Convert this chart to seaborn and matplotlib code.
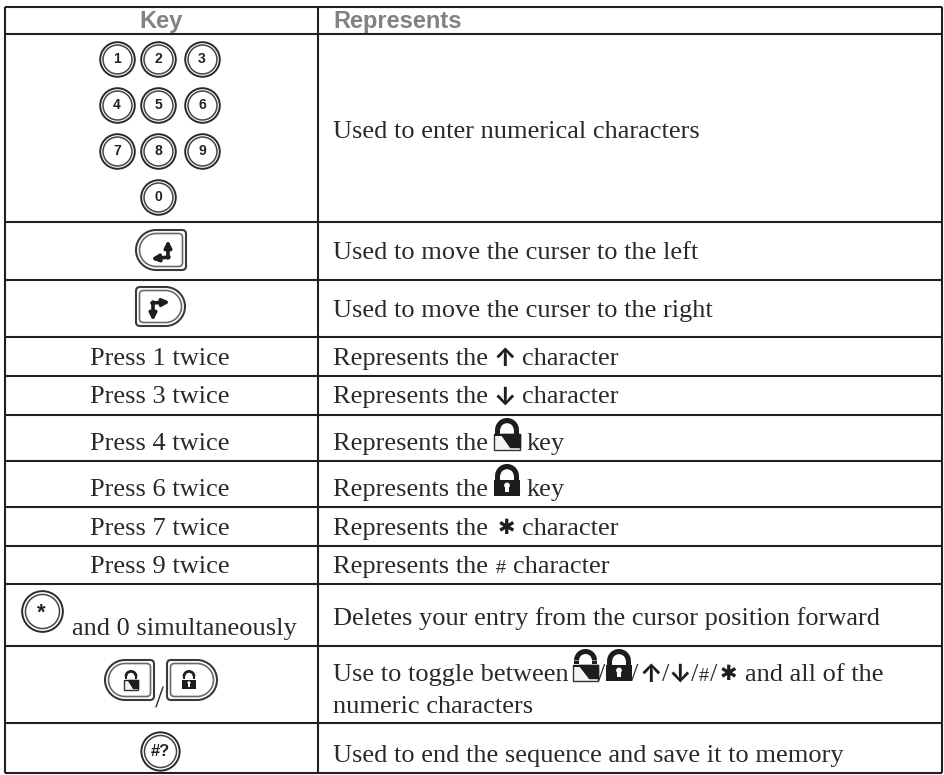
import matplotlib
matplotlib.use('Agg')
import matplotlib.pyplot as plt
import seaborn as sns
import pandas as pd
from matplotlib.path import Path
from matplotlib.patches import PathPatch, Rectangle, Wedge, Circle

headers = ['Key', 'Represents']
key_digits = ['1', '2', '3', '4', '5', '6', '7', '8', '9', '0']
press_labels = ['Press 1 twice', 'Press 3 twice', 'Press 4 twice', 'Press 6 twice', 'Press 7 twice', 'Press 9 twice']
used_enter = 'Used to enter numerical characters'
used_left = 'Used to move the curser to the left'
used_right = 'Used to move the curser to the right'
deletes = 'Deletes your entry from the cursor position forward'
toggle_a = 'Use to toggle between'
toggle_b = 'and all of the'
toggle_c = 'numeric characters'
used_end = 'Used to end the sequence and save it to memory'

INK = '#2b2829'
DARK = '#1e1c1d'
SERIF = 'Liberation Serif'
FS = 19

sns.set_theme(style='white')
fig = plt.figure(figsize=(9.45, 7.75), dpi=100)
ax = fig.add_axes([0, 0, 1, 1])
ax.set_xlim(0, 945)
ax.set_ylim(775, 0)
ax.axis('off')

# table rules
row_y = [7, 34, 222, 280, 337, 376, 415, 461, 507, 546, 584, 646, 723, 773]
ax.hlines(row_y, 5, 942, color='#231f20', lw=1.5)
ax.vlines([5, 318, 942], 7, 773, color='#231f20', lw=1.5)

def txt(x, y, s, ha='left', **kw):
    kw.setdefault('family', SERIF)
    kw.setdefault('fontsize', FS)
    kw.setdefault('color', INK)
    ax.text(x, y, s, ha=ha, va='baseline', **kw)

def arrow_char(x, y, s):
    ax.text(x, y, s, ha='center', va='center', family=['Inter', 'DejaVu Sans'], fontweight='bold', fontsize=18, color=DARK)

def star_char(x, y):
    ax.text(x, y, '✱', ha='center', va='center', family='DejaVu Sans', fontsize=15, color=DARK)

def ring_button(df, size):
    sns.scatterplot(data=df, x='x', y='y', s=size, color='white', edgecolor='#2a2a2a', linewidth=1.4, ax=ax, legend=False, zorder=3)
    sns.scatterplot(data=df, x='x', y='y', s=size * 0.7, color='white', edgecolor='#444444', linewidth=1.1, ax=ax, legend=False, zorder=4)

def d_button(x0, x1, y0, y1, flip=False):
    # D shaped key, round side left unless flipped
    for inset, col, lw in [(0, '#3a3a3a', 1.5), (3.5, '#6a6a6a', 1.2)]:
        a, b, t, u = x0 + inset, x1 - inset, y0 + inset, y1 - inset
        r = (u - t) / 2
        k = 0.55 * r
        q = 4
        v = [(b - q, t), (a + r, t), (a + r - k, t), (a, t + r - k), (a, t + r),
             (a, t + r + k), (a + r - k, u), (a + r, u), (b - q, u), (b, u), (b, u - q),
             (b, t + q), (b, t), (b - q, t), (b - q, t)]
        if flip:
            v = [(x0 + x1 - p, w) for p, w in v]
        c = [Path.MOVETO, Path.LINETO, Path.CURVE4, Path.CURVE4, Path.CURVE4,
             Path.CURVE4, Path.CURVE4, Path.CURVE4, Path.LINETO, Path.CURVE3, Path.CURVE3,
             Path.LINETO, Path.CURVE3, Path.CURVE3, Path.CLOSEPOLY]
        ax.add_patch(PathPatch(Path(v, c), fc='white', ec=col, lw=lw, zorder=3))

def lock(x, y, w, h, is_open=False):
    # x, y = left and top of the icon
    mid = x + w / 2
    r = w * 0.46
    ax.add_patch(Wedge((mid, y + r), r, 180, 360, width=w * 0.2, fc=DARK, ec='none', zorder=5))
    ax.add_patch(Rectangle((mid - r, y + r), w * 0.2, h * 0.12, fc=DARK, ec='none', zorder=5))
    ax.add_patch(Rectangle((mid + r - w * 0.2, y + r), w * 0.2, h * 0.12, fc=DARK, ec='none', zorder=5))
    body = y + h * 0.5
    if is_open:
        ax.add_patch(Rectangle((x, body), w, y + h - body, fc='#f4f4f4', ec='#333333', lw=1.0, zorder=5))
        ax.fill([x + w * 0.25, x + w, x + w, x + w * 0.62], [body, body, y + h * 0.92, y + h * 0.92], color=DARK, zorder=6)
        ax.add_patch(Rectangle((x, body), w, h * 0.06, fc=DARK, ec='none', zorder=6))
    else:
        ax.add_patch(Rectangle((x, body), w, y + h - body, fc=DARK, ec='none', zorder=5))
        ax.add_patch(Circle((mid, body + h * 0.17), w * 0.11, fc='white', ec='none', zorder=6))
        ax.add_patch(Rectangle((mid - w * 0.06, body + h * 0.17), w * 0.12, h * 0.2, fc='white', ec='none', zorder=6))

def bent_arrow(tip, start):
    ax.annotate('', xy=tip, xytext=start,
                arrowprops=dict(arrowstyle='-|>', lw=2.6, color=DARK, mutation_scale=10, shrinkA=0, shrinkB=0), zorder=6)

# header
txt(161, 28, headers[0], ha='center', family='Liberation Sans', fontweight='bold', fontsize=17, color='#808285')
txt(333, 28, headers[1], family='Liberation Sans', fontweight='bold', fontsize=17, color='#808285')

# keypad
pad_x = [117, 158, 202, 117, 158, 202, 117, 158, 202, 158]
pad_y = [59, 59, 59, 105, 105, 105, 151, 151, 151, 197]
ring_button(pd.DataFrame({'x': pad_x, 'y': pad_y}), 620)
for x, y, d in zip(pad_x, pad_y, key_digits):
    ax.text(x, y, d, ha='center', va='center', family='Liberation Sans', fontweight='bold', fontsize=10, color='#222222', zorder=6)
txt(333, 138, used_enter)

# cursor keys
d_button(136, 186, 230, 270)
bent_arrow((168, 240), (168, 258))
bent_arrow((151, 259), (169, 257))
txt(333, 259, used_left)
d_button(136, 185, 287, 326, flip=True)
bent_arrow((170, 302), (152, 303))
bent_arrow((153, 321), (153, 302))
txt(333, 317, used_right)

# press rows
press_y = [365, 403, 450, 496, 535, 573]
for y, s in zip(press_y, press_labels):
    txt(160, y, s, ha='center')
for y in press_y:
    txt(333, y, 'Represents the')
arrow_char(505, 360, '↑')
txt(522, 365, 'character')
arrow_char(505, 398, '↓')
txt(522, 403, 'character')
lock(494, 418, 26, 32, is_open=True)
txt(527, 450, 'key')
lock(494, 464, 26, 32)
txt(527, 496, 'key')
star_char(506, 528)
txt(522, 535, 'character')
txt(501, 573, '#', ha='center', fontsize=13, family='Liberation Sans')
txt(513, 573, 'character')

# star + 0
ring_button(pd.DataFrame({'x': [42], 'y': [611]}), 860)
ax.text(41, 613, '*', ha='center', va='center', family='Liberation Sans', fontweight='bold', fontsize=16, color='#222222', zorder=6)
txt(72, 635, 'and 0 simultaneously')
txt(333, 625, deletes)

# toggle row
d_button(105, 154, 660, 700)
lock(124, 670, 14, 20, is_open=True)
d_button(167, 217, 660, 700, flip=True)
lock(182, 670, 14, 19)
ax.plot([156, 163], [707, 687], color=INK, lw=1.0)
txt(333, 681, toggle_a)
lock(573, 649, 25, 32, is_open=True)
txt(602, 681, '/', ha='center')
lock(606, 649, 26, 32)
txt(635, 681, '/', ha='center')
arrow_char(651, 675, '↑')
txt(666, 681, '/', ha='center')
arrow_char(680, 675, '↓')
txt(695, 681, '/', ha='center')
txt(704, 681, '#', ha='center', fontsize=13, family='Liberation Sans')
txt(714, 681, '/', ha='center')
star_char(728, 674)
txt(745, 681, toggle_b)
txt(333, 713, toggle_c)

# end key
ring_button(pd.DataFrame({'x': [160], 'y': [751]}), 760)
ax.text(160, 751, '#?', ha='center', va='center', family='Liberation Sans', fontweight='bold', fontsize=12, color='#222222', zorder=6)
txt(333, 762, used_end)

fig.savefig('out.png', dpi=100)
